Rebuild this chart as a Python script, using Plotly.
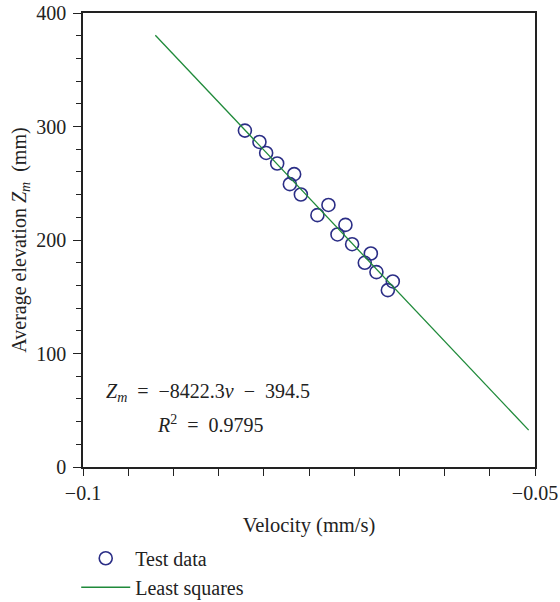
import plotly.graph_objects as go

# Test data (velocity mm/s, average elevation mm)
velocity = [-0.08209, -0.08048, -0.07974, -0.07852, -0.07664, -0.07712, -0.07590,
            -0.07407, -0.07285, -0.07097, -0.07185, -0.07023, -0.06816, -0.06883,
            -0.06754, -0.06573, -0.06628]
elevation = [296.4, 286.4, 276.7, 267.4, 258.0, 249.2, 240.1,
             221.9, 230.9, 213.3, 204.9, 196.3, 188.1, 179.9,
             171.7, 163.5, 155.8]

# Least squares fit: Z = slope*v + intercept
slope = -8422.3
intercept = -394.5
fit_x = [-0.0920, -0.0507]
fit_y = [slope * v + intercept for v in fit_x]

x_tickvals = [-0.1, -0.05]
x_ticktext = ["\u22120.1", "\u22120.05"]
x_minor_step = 0.005
y_tickvals = [0, 100, 200, 300, 400]
y_ticktext = ["0", "100", "200", "300", "400"]
y_minor_step = 20

FONT = "Liberation Serif, Times New Roman, serif"
INK = "#222222"

fig = go.Figure()
fig.add_trace(go.Scatter(
    x=velocity, y=elevation, mode="markers", name="Test data",
    marker=dict(symbol="circle-open", size=13, color="#2b2e86",
                line=dict(width=1.6, color="#2b2e86")),
))
fig.add_trace(go.Scatter(
    x=fit_x, y=fit_y, mode="lines", name="Least squares",
    line=dict(color="#1f8a3a", width=1.3),
))

fig.update_layout(
    width=560, height=602,
    margin=dict(l=83, r=25, t=13, b=135, autoexpand=False),
    paper_bgcolor="white", plot_bgcolor="white",
    font=dict(family=FONT, size=20, color=INK),
    showlegend=True,
    legend=dict(x=-0.015, xanchor="left", y=-0.158, yanchor="top",
                bgcolor="rgba(0,0,0,0)", font=dict(size=20, family=FONT, color=INK),
                itemwidth=49, tracegroupgap=0),
    xaxis=dict(
        range=[-0.1, -0.05], tickvals=x_tickvals, ticktext=x_ticktext,
        ticks="outside", ticklen=7, tickwidth=1.3, tickcolor=INK,
        minor=dict(tick0=-0.1, dtick=x_minor_step, ticks="outside", ticklen=7,
                   tickwidth=1.3, tickcolor=INK, showgrid=False),
        tickfont=dict(size=20, family=FONT, color=INK),
        showline=True, linecolor=INK, linewidth=1.5, mirror=True,
        showgrid=False, zeroline=False, automargin=False,
        title=dict(text="Velocity (mm/s)", standoff=15,
                   font=dict(size=20.5, family=FONT, color=INK)),
    ),
    yaxis=dict(
        range=[0, 400], tickvals=y_tickvals, ticktext=y_ticktext,
        ticks="outside", ticklen=8, tickwidth=1.3, tickcolor=INK,
        ticklabelstandoff=3,
        tickfont=dict(size=20, family=FONT, color=INK),
        minor=dict(tick0=0, dtick=y_minor_step, ticks="outside", ticklen=5,
                   tickwidth=1.3, tickcolor=INK, showgrid=False),
        showline=True, linecolor=INK, linewidth=1.5, mirror=True,
        showgrid=False, zeroline=False, automargin=False,
        title=dict(text="Average elevation <i>Z</i><sub><i>m</i></sub>\u2002(mm)", standoff=4,
                   font=dict(size=20, family=FONT, color=INK)),
    ),
    annotations=[
        dict(x=-0.0977, y=66, xref="x", yref="y", xanchor="left", showarrow=False,
             text="<i>Z</i><sub><i>m</i></sub>\u2002=\u2002\u22128422.3<i>v</i>\u2002\u2212\u2002394.5",
             font=dict(size=20, family=FONT, color=INK)),
        dict(x=-0.0920, y=38, xref="x", yref="y", xanchor="left", showarrow=False,
             text="<i>R</i><sup>2</sup>\u2002=\u20020.9795",
             font=dict(size=20, family=FONT, color=INK)),
    ],
)

fig.write_html("out.html",
               config={"displayModeBar": False},
               post_script="document.body.style.margin='0';document.body.style.overflow='hidden';")
